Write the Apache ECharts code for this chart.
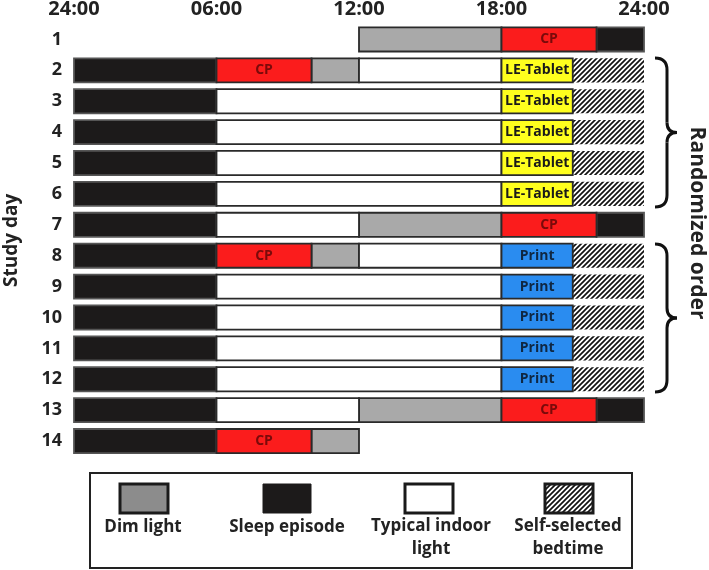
<!DOCTYPE html>
<html>
<head>
<meta charset="utf-8">
<script src="https://cdn.jsdelivr.net/npm/echarts@6/dist/echarts.min.js"></script>
<style>
html,body{margin:0;padding:0;background:#fff;}
#chart{width:709px;height:570px;}
</style>
</head>
<body>
<div id="chart"></div>
<script>
// ---- data ----
const days = ['1','2','3','4','5','6','7','8','9','10','11','12','13','14'];
const timeLabels = ['24:00','06:00','12:00','18:00','24:00'];
// [study day, start hour, end hour]
const sleepEpisode = [[1,22,24],[2,0,6],[3,0,6],[4,0,6],[5,0,6],[6,0,6],[7,0,6],[7,22,24],[8,0,6],[9,0,6],[10,0,6],[11,0,6],[12,0,6],[13,0,6],[13,22,24],[14,0,6]];
const dimLight = [[1,12,18],[2,10,12],[7,12,18],[8,10,12],[13,12,18],[14,10,12]];
const typicalLight = [[2,12,18],[3,6,18],[4,6,18],[5,6,18],[6,6,18],[7,6,12],[8,12,18],[9,6,18],[10,6,18],[11,6,18],[12,6,18],[13,6,12]];
const cpLight = [[1,18,22],[2,6,10],[7,18,22],[8,6,10],[13,18,22],[14,6,10]];
const leTablet = [[2,18,21],[3,18,21],[4,18,21],[5,18,21],[6,18,21]];
const printBook = [[8,18,21],[9,18,21],[10,18,21],[11,18,21],[12,18,21]];
const bedtime = [[2,21,24],[3,21,24],[4,21,24],[5,21,24],[6,21,24],[8,21,24],[9,21,24],[10,21,24],[11,21,24],[12,21,24]];

const FONT = '"Open Sans", "Liberation Sans", sans-serif';

// hatch pattern
function hatchCanvas(size, lw) {
  const c = document.createElement('canvas');
  c.width = size; c.height = size;
  const g = c.getContext('2d');
  g.fillStyle = '#fff'; g.fillRect(0,0,size,size);
  g.strokeStyle = '#111'; g.lineWidth = lw;
  g.beginPath();
  g.moveTo(0,size); g.lineTo(size,0);
  g.moveTo(-size,size); g.lineTo(size,-size);
  g.moveTo(0,2*size); g.lineTo(2*size,0);
  g.stroke();
  return c;
}
const hatch = hatchCanvas(5, 1.7);

function toData(arr){ return arr.map(d => [d[0]-1, d[1], d[2]]); }

function makeSeries(name, arr, fill, stroke, label, labelColor, z) {
  return {
    type: 'custom',
    name: name,
    z: z || 2,
    encode: { y: 0, x: [1, 2] },
    data: toData(arr),
    renderItem: function (params, api) {
      const yi = api.value(0);
      const p0 = api.coord([api.value(1), yi]);
      const p1 = api.coord([api.value(2), yi]);
      const band = api.size([0, 1])[1];
      const h = band * 0.78;
      const el = {
        type: 'rect',
        shape: { x: p0[0], y: p0[1] - h / 2, width: p1[0] - p0[0], height: h },
        style: { fill: fill, stroke: stroke, lineWidth: stroke ? 1.8 : 0 }
      };
      if (label) {
        el.textContent = { style: { text: label, fill: labelColor, font: 'bold 14px ' + FONT } };
        el.textConfig = { position: 'inside' };
      }
      return el;
    }
  };
}

// brace built from quadratic curves and lines
function brace(x0, yTop, yBot, xm, xt) {
  const ym = (yTop + yBot) / 2;
  const st = { fill: null, stroke: '#111', lineWidth: 3 };
  return [
    { type: 'bezierCurve', shape: { x1: x0, y1: yTop, cpx1: xm, cpy1: yTop, x2: xm, y2: yTop + 12 }, style: st },
    { type: 'line', shape: { x1: xm, y1: yTop + 12, x2: xm, y2: ym - 10 }, style: st },
    { type: 'bezierCurve', shape: { x1: xm, y1: ym - 10, cpx1: xm, cpy1: ym, x2: xt, y2: ym }, style: st },
    { type: 'bezierCurve', shape: { x1: xt, y1: ym, cpx1: xm, cpy1: ym, x2: xm, y2: ym + 10 }, style: st },
    { type: 'line', shape: { x1: xm, y1: ym + 10, x2: xm, y2: yBot - 12 }, style: st },
    { type: 'bezierCurve', shape: { x1: xm, y1: yBot - 12, cpx1: xm, cpy1: yBot, x2: x0, y2: yBot }, style: st }
  ];
}

const chart = echarts.init(document.getElementById('chart'), null, { renderer: 'canvas' });

const legendY = 484, legendH = 29, legendW = 48;
const LFONT = 'bold 17px ' + FONT;
const option = {
  backgroundColor: '#fff',
  animation: false,
  grid: { left: 74, right: 65, top: 24, bottom: 113.5, containLabel: false, outerBoundsMode: 'none' },
  xAxis: {
    type: 'value', position: 'top', min: 0, max: 24, interval: 6,
    axisLine: { show: false }, axisTick: { show: false }, splitLine: { show: false },
    axisLabel: {
      margin: 5, color: '#222', fontSize: 20, fontWeight: 'bold', fontFamily: FONT,
      showMinLabel: true, showMaxLabel: true, hideOverlap: false,
      formatter: function (v) { return timeLabels[Math.round(v / 6)]; }
    }
  },
  yAxis: {
    type: 'category', data: days, inverse: true,
    name: 'Study day', nameLocation: 'middle', nameRotate: 90, nameGap: 53,
    nameTextStyle: { color: '#222', fontSize: 19, fontWeight: 'bold', fontFamily: FONT },
    axisLine: { show: false }, axisTick: { show: false }, splitLine: { show: false },
    axisLabel: { margin: 12, color: '#222', fontSize: 18, fontWeight: 'bold', fontFamily: FONT }
  },
  series: [
    makeSeries('Self-selected bedtime', bedtime, { image: hatch, repeat: 'repeat' }, null),
    makeSeries('Sleep episode', sleepEpisode, '#1c1a1a', '#555'),
    makeSeries('Dim light', dimLight, '#a9a9a9', '#2a2a2a'),
    makeSeries('Typical indoor light', typicalLight, '#ffffff', '#2a2a2a'),
    makeSeries('CP', cpLight, '#fb1c1c', '#2a2a2a', 'CP', '#7a0a0a', 3),
    makeSeries('LE-Tablet', leTablet, '#ffff1e', '#2a2a2a', 'LE-Tablet', '#1a1a1a', 3),
    makeSeries('Print', printBook, '#2a8cf0', '#2a2a2a', 'Print', '#0f2742', 3)
  ],
  graphic: [].concat(
    brace(655, 58, 207, 667, 677),
    brace(655, 244, 392, 667, 677),
    [
    { type: 'text', x: 697, y: 223, rotation: -Math.PI / 2,
      style: { text: 'Randomized order', fill: '#222', font: 'bold 21px ' + FONT, align: 'center', verticalAlign: 'middle' } },
    // legend box
    { type: 'rect', shape: { x: 90, y: 473, width: 542, height: 95 }, style: { fill: '#fff', stroke: '#222', lineWidth: 2 } },
    { type: 'rect', shape: { x: 120, y: legendY, width: legendW, height: legendH }, style: { fill: '#8c8c8c', stroke: '#1a1a1a', lineWidth: 3 } },
    { type: 'rect', shape: { x: 263, y: legendY, width: legendW, height: legendH }, style: { fill: '#1c1a1a', stroke: '#1c1a1a', lineWidth: 1 } },
    { type: 'rect', shape: { x: 405, y: legendY, width: legendW, height: legendH }, style: { fill: '#fff', stroke: '#1a1a1a', lineWidth: 3 } },
    { type: 'rect', shape: { x: 545, y: legendY, width: legendW, height: legendH }, style: { fill: { image: hatch, repeat: 'repeat' }, stroke: '#1a1a1a', lineWidth: 3 } },
    { type: 'text', x: 143, y: 527, style: { text: 'Dim light', fill: '#222', font: LFONT, align: 'center', verticalAlign: 'middle' } },
    { type: 'text', x: 287, y: 527, style: { text: 'Sleep episode', fill: '#222', font: LFONT, align: 'center', verticalAlign: 'middle' } },
    { type: 'text', x: 431, y: 538, style: { text: 'Typical indoor\nlight', fill: '#222', font: LFONT, lineHeight: 23, align: 'center', verticalAlign: 'middle' } },
    { type: 'text', x: 568, y: 538, style: { text: 'Self-selected\nbedtime', fill: '#222', font: LFONT, lineHeight: 23, align: 'center', verticalAlign: 'middle' } }
    ]
  )
};
chart.setOption(option);
</script>
</body>
</html>
